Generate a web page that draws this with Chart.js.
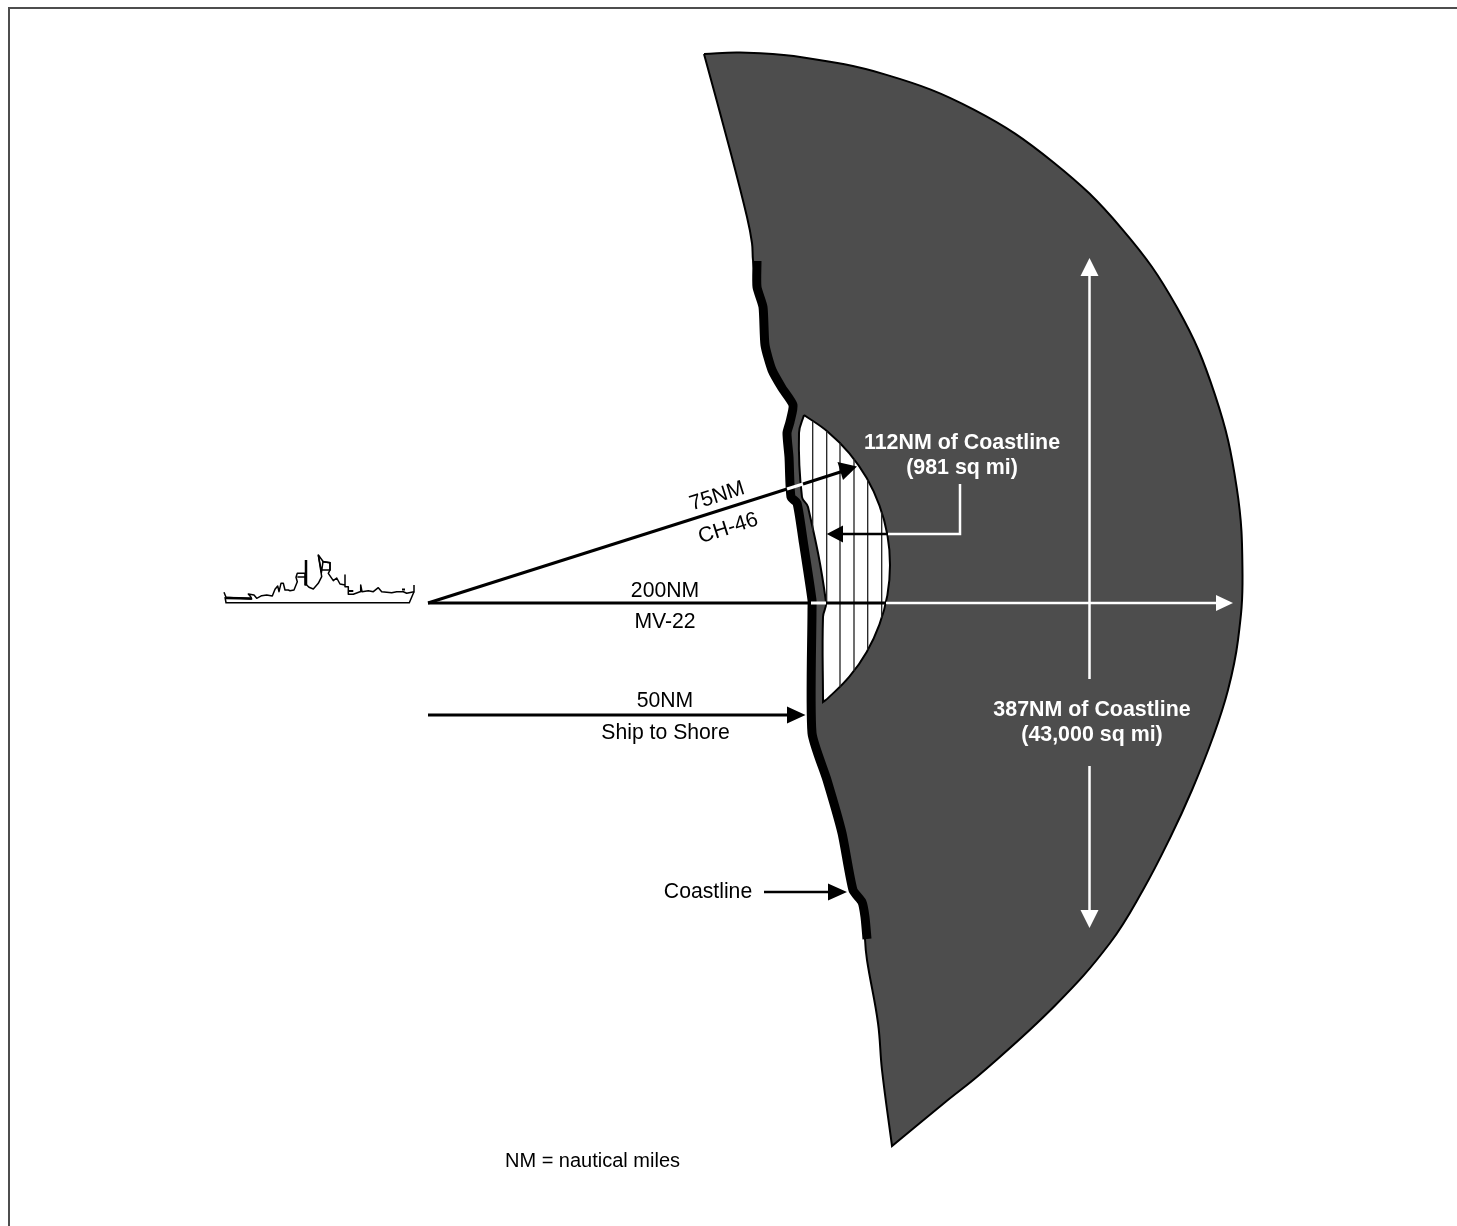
<!DOCTYPE html>
<html><head><meta charset="utf-8">
<style>html,body{margin:0;padding:0;background:#fff}canvas{display:block}</style>
<script src="https://cdn.jsdelivr.net/npm/chart.js@4"></script>
</head><body>
<canvas id="c" width="1457" height="1226"></canvas>
<script>
const P = a => a.map(([x, y]) => ({x, y}));
const frame = [[9,1226],[9,8],[1457,8]];
const rangeArc = [[704,54],[704,54],[740,52.5],[793.7,56.1],[885.7,74.6],[973.8,109.6],[1053.3,162.2],[1121.9,228.8],[1176.9,307.3],[1215,394.9],[1236.7,487.6],[1242.5,575],[1238,640],[1228,690],[1213,737],[1192,790],[1170,838],[1143,890],[1110,943],[1055.8,1004.8],[983.5,1071.3],[943.6,1103.5],[892,1146],[892,1146]];
const rangeCoast = [[882,1070],[878,1023],[867,960],[865,939],[865,917],[862,902],[853,890],[842,833],[827,780],[812,733],[812,610],[812,600],[803,540],[797,503],[791,497],[789,457],[787,433],[790,422],[793,405],[782,388],[772,370],[765,345],[763,307],[757,287],[753,260],[752,243],[747,217],[730,150],[704,54]];
const coastline = [[757,261],[757,287],[763,307],[765,345],[772,370],[782,388],[793,405],[790,422],[787,433],[789,457],[791,497],[797,503],[803,540],[812,600],[812,610],[812,733],[827,780],[842,833],[853,890],[862,902],[865,917],[867,939]];
const innerArea = [[804,415],[804,415],[828,431.9],[849.4,453.3],[866.7,478.1],[879.5,505.6],[887.4,534.8],[890,565],[887.4,595.2],[879.5,624.4],[866.7,651.9],[849.4,676.7],[828,698.1],[823,702],[823,702],[823,617],[826,602],[808,507],[802,497],[799,433],[804,415]];
const hatchLines = [
  [[812.7,421],[812.7,532]],
  [[826.7,431],[826.7,603]],
  [[840,443],[840,687]],
  [[854,459],[854,671]],
  [[867.7,480],[867.7,650]],
  [[881.7,512],[881.7,618]]
];
const shipDeck = [[224,592.3],[226,597.3],[251.7,599],[250.7,596.7],[248.3,594],[254,595],[256.7,598.3],[261.7,595.7],[266.7,595],[272.3,596],[275,589.3],[277.7,586],[279,591.7],[281,583.3],[283.3,583.3],[285,590],[288.3,590],[290,590.7],[294,590],[297.3,581.7],[296,577.3],[297.3,573.3],[305,573.3],[305,585],[306.7,585],[309,587.3],[313.3,589],[318.3,583.3],[321.7,576.7],[318.3,555],[323.3,561.7],[330,562.7],[330,570],[328.3,573.3],[333.3,580.7],[336.7,578],[340,584],[345,585],[345,575],[345,586.7],[348.3,586.7],[348.3,594.3],[353.3,594.3],[360,591.7],[360.7,585],[362,591.7],[368.3,590.7],[373.3,591.7],[378.3,587.7],[381.7,591.7],[391.7,592.7],[396.7,591.7],[403.3,591.7],[406.7,593.3],[414,591.7],[414,585]];
const shipHull = [[225,597],[226,602.7],[409.3,602.7],[414,591.7]];
const shipStripe = [[226,598],[251.7,598.5]];
const shipMast = [[306,560],[306,585]];
const shipBridge = [[297.3,577],[305,577]];
const shipTower = [[318.3,555],[321.5,572],[323,561.7],[330,562.7],[330,570],[322,570]];
const shipBox = [[348.3,591],[353.3,591]];
const shipGun = [[402,589.5],[405,589.5]];

const rays = [
  {pts:[[428,603],[787,489]], c:'#000', w:3},
  {pts:[[787,489],[803,484]], c:'#fff', w:3},
  {pts:[[803,484],[845,470.5]], c:'#000', w:3},
  {pts:[[428,603],[811,603]], c:'#000', w:3},
  {pts:[[811,603],[826,603]], c:'#fff', w:3},
  {pts:[[826,603],[886,603]], c:'#000', w:3},
  {pts:[[886,603],[1220,603]], c:'#fff', w:2.5},
  {pts:[[428,715],[790,715]], c:'#000', w:3},
  {pts:[[764,892],[832,892]], c:'#000', w:2.5},
  {pts:[[960,484],[960,534],[888,534]], c:'#fff', w:2.5},
  {pts:[[888,534],[840,534]], c:'#000', w:2.5},
  {pts:[[1089.5,275],[1089.5,679]], c:'#fff', w:2.5},
  {pts:[[1089.5,766],[1089.5,912]], c:'#fff', w:2.5}
];
const arrowHeads = [
  {pts:[[857,466.5],[837.5,462],[843,480]], c:'#000'},
  {pts:[[1233,603],[1216,595],[1216,611]], c:'#fff'},
  {pts:[[805.5,715],[787,706.5],[787,723.5]], c:'#000'},
  {pts:[[847,892],[828,883.5],[828,900.5]], c:'#000'},
  {pts:[[826.7,534],[843,525.5],[843,542.5]], c:'#000'},
  {pts:[[1089.5,258],[1080.5,276],[1098.5,276]], c:'#fff'},
  {pts:[[1089.5,928],[1080.5,910],[1098.5,910]], c:'#fff'}
];
const labels = [
  {t:'200NM', x:665, y:596.5, c:'#000', f:'21.2px', r:0},
  {t:'MV-22', x:665, y:627.5, c:'#000', f:'21.2px', r:0},
  {t:'50NM', x:665, y:707, c:'#000', f:'21.2px', r:0},
  {t:'Ship to Shore', x:665.5, y:739, c:'#000', f:'21.2px', r:0},
  {t:'75NM', x:719, y:502, c:'#000', f:'21.2px', r:-17.7},
  {t:'CH-46', x:730, y:534, c:'#000', f:'21.2px', r:-17.7},
  {t:'Coastline', x:708, y:898, c:'#000', f:'21.2px', r:0},
  {t:'NM = nautical miles', x:592.5, y:1167, c:'#000', f:'20px', r:0},
  {t:'112NM of Coastline', x:962, y:449, c:'#fff', f:'bold 21.4px', r:0},
  {t:'(981 sq mi)', x:962, y:474, c:'#fff', f:'bold 21.4px', r:0},
  {t:'387NM of Coastline', x:1092, y:716, c:'#fff', f:'bold 21.4px', r:0},
  {t:'(43,000 sq mi)', x:1092, y:741, c:'#fff', f:'bold 21.4px', r:0}
];

const ds = [];
const add = (pts, o) => ds.push(Object.assign({data:P(pts), showLine:true, pointRadius:0, pointHoverRadius:0, fill:false, borderCapStyle:'butt', borderJoinStyle:'miter', order:-ds.length}, o));
add(frame, {borderColor:'#4d4d4d', borderWidth:2});
add(rangeArc.concat(rangeCoast), {borderColor:'#000', borderWidth:2, backgroundColor:'#4d4d4d', fill:'shape', tension:0.4});
add(coastline, {borderColor:'#000', borderWidth:9, tension:0.2, borderJoinStyle:'round'});
add(innerArea, {borderColor:'#000', borderWidth:2, backgroundColor:'#fff', fill:'shape', tension:0.4});
hatchLines.forEach(h => add(h, {borderColor:'#222', borderWidth:1.3}));
add(shipDeck, {borderColor:'#000', borderWidth:1.5, borderJoinStyle:'round'});
add(shipHull, {borderColor:'#000', borderWidth:1.5});
add(shipStripe, {borderColor:'#000', borderWidth:2.5});
add(shipMast, {borderColor:'#000', borderWidth:2.5});
add(shipBridge, {borderColor:'#000', borderWidth:1.5});
add(shipTower, {borderColor:'#000', borderWidth:1.5});
add(shipBox, {borderColor:'#000', borderWidth:2});
add(shipGun, {borderColor:'#000', borderWidth:2});
rays.forEach(r => add(r.pts, {borderColor:r.c, borderWidth:r.w}));
arrowHeads.forEach(a => add(a.pts.concat([a.pts[0]]), {borderColor:a.c, borderWidth:0, backgroundColor:a.c, fill:'shape'}));

const textPlugin = {
  id:'diagramText',
  afterDatasetsDraw(chart){
    const {ctx, scales:{x, y}} = chart;
    ctx.save();
    ctx.textAlign='center'; ctx.textBaseline='alphabetic';
    labels.forEach(l => {
      ctx.save();
      ctx.translate(x.getPixelForValue(l.x), y.getPixelForValue(l.y));
      ctx.rotate(l.r*Math.PI/180);
      ctx.fillStyle=l.c;
      ctx.font=l.f+' "Liberation Sans", Arial, sans-serif';
      ctx.fillText(l.t,0,0);
      ctx.restore();
    });
    ctx.restore();
  }
};

new Chart(document.getElementById('c'), {
  type:'scatter',
  data:{datasets:ds},
  plugins:[textPlugin],
  options:{
    responsive:false, animation:false, events:[],
    layout:{padding:0},
    plugins:{legend:{display:false}, tooltip:{enabled:false}, title:{display:false}},
    scales:{
      x:{type:'linear', min:0, max:1457, display:false},
      y:{type:'linear', min:0, max:1226, reverse:true, display:false}
    }
  }
});
</script>
</body></html>
